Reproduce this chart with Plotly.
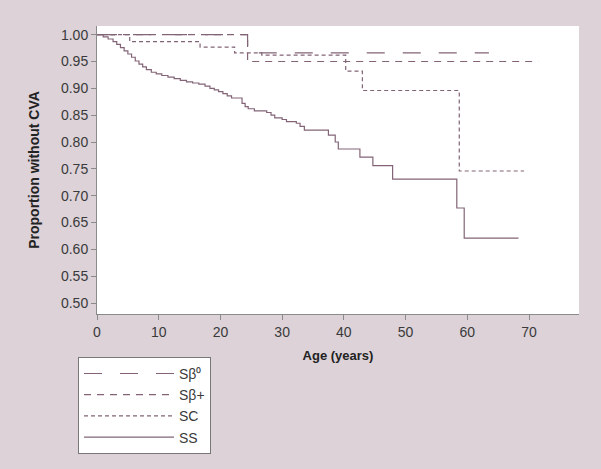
import plotly.graph_objects as go

# Kaplan-Meier step data
sb0_time = [0, 24.4, 63.5]
sb0_surv = [1.000, 0.966, 0.966]

sbp_time = [0, 24.4, 71.5]
sbp_surv = [1.000, 0.950, 0.950]

sc_time = [0, 5.3, 16.7, 22.3, 26.7, 40.3, 43.0, 58.7, 69.2]
sc_surv = [1.000, 0.987, 0.977, 0.966, 0.962, 0.932, 0.896, 0.746, 0.746]

ss_time = [0, 1.0, 1.8, 2.6, 3.2, 3.8, 4.4, 5.0, 5.6, 6.2, 6.8, 7.4, 8.0, 8.8, 9.6,
           10.5, 11.5, 12.5, 13.5, 14.5, 15.5, 16.5, 17.5, 18.3, 19.0, 19.7, 20.4,
           21.1, 21.8, 23.5, 24.0, 24.5, 25.5, 27.5, 28.2, 28.8, 30.0, 30.7, 32.3,
           32.9, 33.6, 37.5, 38.6, 39.1, 42.6, 44.7, 47.9, 58.3, 59.5, 68.3]
ss_surv = [1.000, 0.996, 0.992, 0.987, 0.982, 0.976, 0.970, 0.964, 0.958, 0.951,
           0.945, 0.940, 0.935, 0.930, 0.927, 0.924, 0.921, 0.918, 0.915, 0.912,
           0.910, 0.908, 0.904, 0.900, 0.897, 0.894, 0.890, 0.886, 0.882, 0.872,
           0.866, 0.862, 0.858, 0.855, 0.850, 0.845, 0.842, 0.838, 0.835, 0.829,
           0.822, 0.813, 0.800, 0.787, 0.772, 0.756, 0.731, 0.677, 0.621, 0.621]

y_ticks = [0.50, 0.55, 0.60, 0.65, 0.70, 0.75, 0.80, 0.85, 0.90, 0.95, 1.00]
x_ticks = [0, 10, 20, 30, 40, 50, 60, 70]

line_color = "#836476"
font_family = "Liberation Sans, Arial, sans-serif"
text_color = "#3a3a3a"
axis_color = "#8a8a8a"

series = [
    ("Sβ⁰", sb0_time, sb0_surv, "18px,18px"),
    ("Sβ+", sbp_time, sbp_surv, "7px,6px"),
    ("SC", sc_time, sc_surv, "4px,3px"),
    ("SS", ss_time, ss_surv, "solid"),
]

fig = go.Figure()
for name, t, s, dash in series:
    fig.add_trace(go.Scatter(
        x=t, y=s, mode="lines", name=name,
        line=dict(shape="hv", color=line_color, width=1.2, dash=dash),
    ))

fig.update_layout(
    width=601, height=469,
    margin=dict(l=97, r=22, t=26, b=155, autoexpand=False),
    paper_bgcolor="#dcd2d8",
    plot_bgcolor="white",
    font=dict(family=font_family, size=14, color=text_color),
    showlegend=True,
    legend=dict(
        x=-0.0394, y=-0.149, xanchor="left", yanchor="top",
        bgcolor="white", bordercolor="#777777", borderwidth=1,
        font=dict(size=14, color=text_color),
        traceorder="normal", itemwidth=90,
    ),
)

fig.update_xaxes(
    range=[0, 78.1], tickvals=x_ticks, ticks="outside", ticklen=5,
    tickcolor=axis_color, showline=True, linecolor=axis_color, linewidth=1,
    showgrid=False, zeroline=False, automargin=False,
    title=dict(text="<b>Age (years)</b>", font=dict(size=13, color="#222"), standoff=12),
    tickfont=dict(size=14, color=text_color),
)
fig.update_yaxes(
    range=[0.4795, 1.0162], tickvals=y_ticks, tickformat=".2f", ticks="outside",
    ticklen=5, tickcolor=axis_color, showline=True, linecolor=axis_color,
    linewidth=1, showgrid=False, zeroline=False, automargin=False,
    title=dict(text="<b>Proportion without CVA</b>", font=dict(size=14, color="#222"), standoff=18),
    tickfont=dict(size=14, color=text_color),
)

fig.write_html(
    "out.html",
    config={"displayModeBar": False},
    post_script="document.body.style.margin='0';document.body.style.background='#dcd2d8';",
)
